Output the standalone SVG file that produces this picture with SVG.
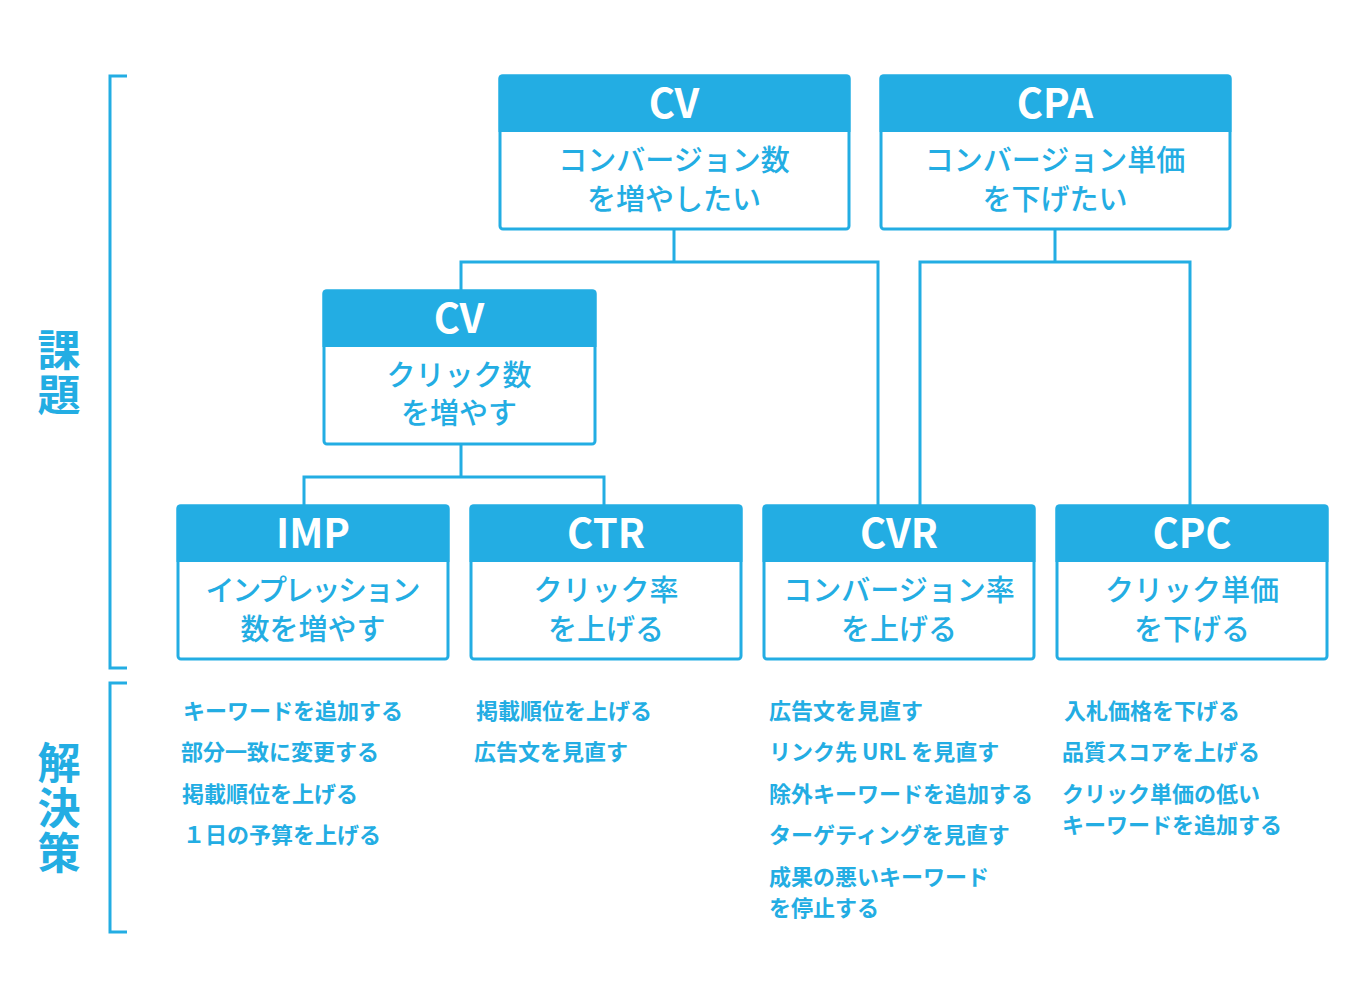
<svg xmlns="http://www.w3.org/2000/svg" width="1368" height="1001" viewBox="0 0 1368 1001">
<style>
.box{fill:#fff;stroke:#23ade3;stroke-width:3}
.hd{fill:#23ade3}
.t{font-family:"Noto Sans CJK JP","Noto Sans",sans-serif;font-weight:700;font-size:40px;fill:#fff;text-anchor:middle}
.b{font-family:"Noto Sans CJK JP",sans-serif;font-weight:500;font-size:29px;fill:#23ade3;text-anchor:middle}
.s{font-family:"Noto Sans CJK JP",sans-serif;font-weight:700;font-size:22px;fill:#23ade3}
.side{font-family:"Noto Sans CJK JP",sans-serif;font-weight:700;font-size:43px;fill:#23ade3;text-anchor:middle;writing-mode:vertical-rl;letter-spacing:2px}
.ln{fill:none;stroke:#23ade3;stroke-width:3}
</style>
<rect width="1368" height="1001" fill="#fff"/>
<g id="brackets">
<path class="ln" d="M127 76 H110 V668 H127"/>
<path class="ln" d="M127 683 H110 V932 H127"/>
</g>
<g id="side-labels">
<text class="side" x="59" y="373">課題</text>
<text class="side" x="59" y="809">解決策</text>
</g>
<g id="connectors">
<path class="ln" d="M674 229 V262 M461 290 V262 H878 V505"/>
<path class="ln" d="M1055 229 V262 M920 505 V262 H1190 V505"/>
<path class="ln" d="M461 444 V477 M304 505 V477 H604 V505"/>
</g>
<g id="node-cv-top">
<rect class="box" x="500" y="76" width="349" height="153" rx="3"/>
<path class="hd" d="M498.5 78 Q498.5 74.5 502 74.5 H847 Q850.5 74.5 850.5 78 V132 H498.5 Z"/>
<text class="t" x="674" y="118">CV</text>
<text class="b" x="674" y="171">コンバージョン数</text>
<text class="b" x="674" y="210">を増やしたい</text>
</g>
<g id="node-cpa">
<rect class="box" x="881" y="76" width="349" height="153" rx="3"/>
<path class="hd" d="M879.5 78 Q879.5 74.5 883 74.5 H1228 Q1231.5 74.5 1231.5 78 V132 H879.5 Z"/>
<text class="t" x="1055" y="118">CPA</text>
<text class="b" x="1055" y="171">コンバージョン単価</text>
<text class="b" x="1055" y="210">を下げたい</text>
</g>
<g id="node-cv-mid">
<rect class="box" x="324" y="291" width="271" height="153" rx="3"/>
<path class="hd" d="M322.5 293 Q322.5 289.5 326 289.5 H593 Q596.5 289.5 596.5 293 V347 H322.5 Z"/>
<text class="t" x="459" y="333">CV</text>
<text class="b" x="459" y="386">クリック数</text>
<text class="b" x="459" y="424">を増やす</text>
</g>
<g id="node-imp">
<rect class="box" x="178" y="506" width="270" height="153" rx="3"/>
<path class="hd" d="M176.5 508 Q176.5 504.5 180 504.5 H446 Q449.5 504.5 449.5 508 V562 H176.5 Z"/>
<text class="t" x="313" y="548">IMP</text>
<text class="b" x="313" y="601" textLength="215" lengthAdjust="spacing">インプレッション</text>
<text class="b" x="313" y="640">数を増やす</text>
</g>
<g id="node-ctr">
<rect class="box" x="471" y="506" width="270" height="153" rx="3"/>
<path class="hd" d="M469.5 508 Q469.5 504.5 473 504.5 H739 Q742.5 504.5 742.5 508 V562 H469.5 Z"/>
<text class="t" x="606" y="548">CTR</text>
<text class="b" x="606" y="601">クリック率</text>
<text class="b" x="606" y="640">を上げる</text>
</g>
<g id="node-cvr">
<rect class="box" x="764" y="506" width="270" height="153" rx="3"/>
<path class="hd" d="M762.5 508 Q762.5 504.5 766 504.5 H1032 Q1035.5 504.5 1035.5 508 V562 H762.5 Z"/>
<text class="t" x="899" y="548">CVR</text>
<text class="b" x="899" y="601">コンバージョン率</text>
<text class="b" x="899" y="640">を上げる</text>
</g>
<g id="node-cpc">
<rect class="box" x="1057" y="506" width="270" height="153" rx="3"/>
<path class="hd" d="M1055.5 508 Q1055.5 504.5 1059 504.5 H1325 Q1328.5 504.5 1328.5 508 V562 H1055.5 Z"/>
<text class="t" x="1192" y="548">CPC</text>
<text class="b" x="1192" y="601">クリック単価</text>
<text class="b" x="1192" y="640">を下げる</text>
</g>
<g id="solutions-imp">
<text class="s" x="183" y="719">キーワードを追加する</text>
<text class="s" x="181" y="760">部分一致に変更する</text>
<text class="s" x="182" y="802">掲載順位を上げる</text>
<text class="s" x="183" y="843">１日の予算を上げる</text>
</g>
<g id="solutions-ctr">
<text class="s" x="476" y="719">掲載順位を上げる</text>
<text class="s" x="474" y="760">広告文を見直す</text>
</g>
<g id="solutions-cvr">
<text class="s" x="769" y="719">広告文を見直す</text>
<text class="s" x="769" y="760">リンク先 URL を見直す</text>
<text class="s" x="769" y="802">除外キーワードを追加する</text>
<text class="s" x="769" y="843">ターゲティングを見直す</text>
<text class="s" x="769" y="885">成果の悪いキーワード</text>
<text class="s" x="769" y="916">を停止する</text>
</g>
<g id="solutions-cpc">
<text class="s" x="1064" y="719">入札価格を下げる</text>
<text class="s" x="1062" y="760">品質スコアを上げる</text>
<text class="s" x="1062" y="802">クリック単価の低い</text>
<text class="s" x="1062" y="833">キーワードを追加する</text>
</g>
</svg>
